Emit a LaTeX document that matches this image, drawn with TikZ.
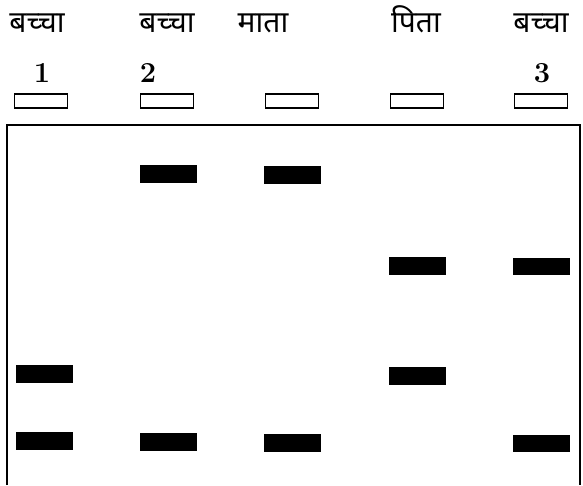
\documentclass[tikz,border=0pt]{standalone}
\usepackage{fontspec}
\newfontfamily\deva[Script=Devanagari]{Noto Sans}
\tikzset{
  lbl/.style={font=\deva\fontsize{30}{34}\selectfont, inner sep=0pt, anchor=base},
  num/.style={font=\bfseries\fontsize{29}{32}\selectfont, inner sep=0pt, anchor=base},
  well/.style={draw, line width=1.2pt, minimum width=53pt, minimum height=14pt, inner sep=0pt, anchor=center},
  band/.style={fill=black, draw=none, minimum width=57pt, minimum height=17.5pt, inner sep=0pt, anchor=center}
}
\begin{document}
\begin{tikzpicture}[x=1pt, y=-1pt]
\useasboundingbox (0,0) rectangle (583,485);
% labels
\node[lbl] (l1) at (37,32) {बच्चा};
\node[lbl] (l2) at (167,32) {बच्चा};
\node[lbl] (l3) at (263,32) {माता};
\node[lbl] (l4) at (416,32) {पिता};
\node[lbl] (l5) at (541,32) {बच्चा};
\node[num] (n1) at (42,82) {1};
\node[num] (n2) at (148,82) {2};
\node[num] (n3) at (542,82) {3};
% wells
\node[well] (w1) at (41,101) {};
\node[well] (w2) at (167,101) {};
\node[well] (w3) at (292,101) {};
\node[well] (w4) at (417,101) {};
\node[well] (w5) at (541,101) {};
% gel frame
\coordinate (bl) at (7,485);
\coordinate (tl) at (7,125);
\coordinate (tr) at (580,125);
\coordinate (br) at (580,485);
\draw[line width=1.4pt] (bl) -- (tl) -- (tr) -- (br);
% bands
\node[band] (b21) at (168,174) {};
\node[band] (b31) at (292.5,175) {};
\node[band] (b41) at (417,266) {};
\node[band] (b51) at (541.5,266.5) {};
\node[band] (b12) at (44,374) {};
\node[band] (b42) at (417,376) {};
\node[band] (b13) at (44,441) {};
\node[band] (b23) at (168,442) {};
\node[band] (b33) at (292.5,443) {};
\node[band] (b53) at (541.5,443.5) {};
\end{tikzpicture}
\end{document}
